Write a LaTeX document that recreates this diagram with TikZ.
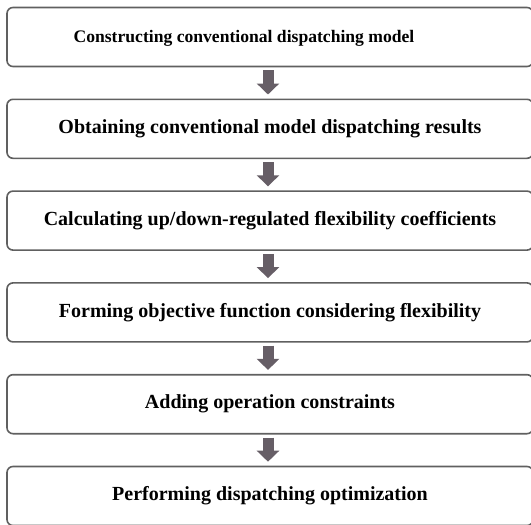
\documentclass[tikz,border=0pt]{standalone}
\usepackage{fontspec}
\setmainfont{Liberation Serif}
\usetikzlibrary{positioning,arrows.meta}

\definecolor{boxline}{RGB}{96,96,96}
\definecolor{arrowfill}{RGB}{102,94,102}

\tikzset{
	stepbox/.style={draw=boxline,line width=1.6pt,rounded corners=6pt,
		minimum width=526pt,minimum height=59pt,inner sep=0pt,
		font=\fontsize{20}{24}\selectfont\bfseries},
	flowarrow/.style={draw=arrowfill,line width=11pt,
		-{Triangle[width=22pt,length=11pt,fill=arrowfill]}}
}

\begin{document}
\begin{tikzpicture}[x=1pt,y=1pt,node distance=31.2pt]
	\useasboundingbox (0,0) rectangle (531,-525);

	\node[stepbox] (b1) at (270,-37) {};
	\node[stepbox,below=of b1] (b2) {Obtaining conventional model dispatching results};
	\node[stepbox,below=of b2] (b3) {Calculating up/down-regulated flexibility coefficients};
	\node[stepbox,below=of b3] (b4) {Forming objective function considering flexibility};
	\node[stepbox,below=of b4] (b5) {Adding operation constraints};
	\node[stepbox,below=of b5] (b6) {Performing dispatching optimization};
	% first label sits left of the box centre, a bit smaller
	\node[font=\fontsize{17.6}{21}\selectfont\bfseries] (t1) at ([xshift=-26pt,yshift=-1pt]b1.center) {Constructing conventional dispatching model};

	\draw[flowarrow] ([xshift=-2pt,yshift=-3pt]b1.south) -- ([xshift=-2pt,yshift=4pt]b2.north);
	\draw[flowarrow] ([xshift=-2pt,yshift=-3pt]b2.south) -- ([xshift=-2pt,yshift=4pt]b3.north);
	\draw[flowarrow] ([xshift=-2pt,yshift=-3pt]b3.south) -- ([xshift=-2pt,yshift=4pt]b4.north);
	\draw[flowarrow] ([xshift=-2pt,yshift=-3pt]b4.south) -- ([xshift=-2pt,yshift=4pt]b5.north);
	\draw[flowarrow] ([xshift=-2pt,yshift=-3pt]b5.south) -- ([xshift=-2pt,yshift=4pt]b6.north);

\end{tikzpicture}
\end{document}
